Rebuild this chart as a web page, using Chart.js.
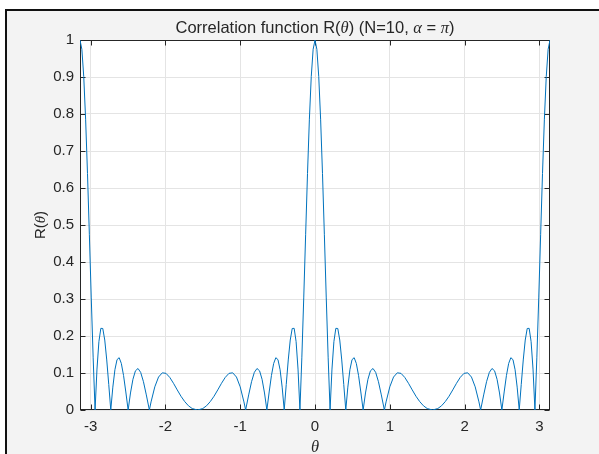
<!DOCTYPE html>
<html>
<head>
<meta charset="utf-8">
<script src="https://cdn.jsdelivr.net/npm/chart.js@4.4.1/dist/chart.umd.min.js"></script>
<style>
  html, body { margin: 0; padding: 0; background: #fff; }
  #wrap { position: relative; width: 599px; height: 454px; overflow: hidden; }
  #fig { position: absolute; left: 5px; top: 9px; right: 0; bottom: 0;
         border-top: 2px solid #111; border-left: 2px solid #111; background: #f3f3f3; }
  #chart { position: absolute; left: 0; top: 0; }
</style>
</head>
<body>
<div id="wrap"><div id="fig"></div><canvas id="chart" width="599" height="454"></canvas></div>
<script>
// theta (rad) and R(theta)
const theta = [
  -3.1416, -3.1166, -3.0916, -3.0665, -3.0414, -3.0163, -2.9910, -2.9657, -2.9402,
  -2.9147, -2.8889, -2.8630, -2.8369, -2.8106, -2.7840, -2.7572, -2.7301,
  -2.7026, -2.6748, -2.6467, -2.6180, -2.5889, -2.5592, -2.5290, -2.4981,
  -2.4665, -2.4340, -2.4006, -2.3662, -2.3306, -2.2935, -2.2549, -2.2143,
  -2.1916, -2.1416, -2.0916, -2.0416, -1.9916, -1.9416, -1.8916, -1.8416, -1.7916, -1.7416, -1.6916, -1.6416, -1.5708,
  -1.5000, -1.4500, -1.4000, -1.3500, -1.3000, -1.2500, -1.2000, -1.1500, -1.1000, -1.0500, -1.0000, -0.9500, -0.9273,
  -0.8867, -0.8481, -0.8110, -0.7754, -0.7410, -0.7076, -0.6751, -0.6435,
  -0.6126, -0.5824, -0.5527, -0.5236, -0.4949, -0.4668, -0.4390, -0.4115,
  -0.3844, -0.3576, -0.3310, -0.3047, -0.2786, -0.2527, -0.2269, -0.2014,
  -0.1759, -0.1506, -0.1253, -0.1002, -0.0751, -0.0500, -0.0250,
  0.0000, 0.0250, 0.0500, 0.0751, 0.1002, 0.1253, 0.1506, 0.1759, 0.2014,
  0.2269, 0.2527, 0.2786, 0.3047, 0.3310, 0.3576, 0.3844, 0.4115,
  0.4390, 0.4668, 0.4949, 0.5236, 0.5527, 0.5824, 0.6126, 0.6435,
  0.6751, 0.7076, 0.7410, 0.7754, 0.8110, 0.8481, 0.8867, 0.9273,
  0.9500, 1.0000, 1.0500, 1.1000, 1.1500, 1.2000, 1.2500, 1.3000, 1.3500, 1.4000, 1.4500, 1.5000, 1.5708,
  1.6416, 1.6916, 1.7416, 1.7916, 1.8416, 1.8916, 1.9416, 1.9916, 2.0416, 2.0916, 2.1416, 2.1916, 2.2143,
  2.2549, 2.2935, 2.3306, 2.3662, 2.4006, 2.4340, 2.4665, 2.4981,
  2.5290, 2.5592, 2.5889, 2.6180, 2.6467, 2.6748, 2.7026, 2.7301,
  2.7572, 2.7840, 2.8106, 2.8369, 2.8630, 2.8889, 2.9147, 2.9402,
  2.9657, 2.9910, 3.0163, 3.0414, 3.0665, 3.0916, 3.1166, 3.1416
];
const rValues = [
  1.0000, 0.9748, 0.9012, 0.7860, 0.6392, 0.4736, 0.3029, 0.1410, 0,
  0.1106, 0.1848, 0.2207, 0.2203, 0.1891, 0.1353, 0.0689, 0,
  0.0618, 0.1089, 0.1361, 0.1414, 0.1258, 0.0930, 0.0487, 0,
  0.0460, 0.0829, 0.1059, 0.1122, 0.1017, 0.0765, 0.0408, 0,
  0.0219, 0.0626, 0.0891, 0.1005, 0.0990, 0.0881, 0.0721, 0.0543, 0.0372, 0.0227, 0.0114, 0.0039, 0,
  0.0039, 0.0114, 0.0227, 0.0372, 0.0543, 0.0721, 0.0881, 0.0990, 0.1005, 0.0891, 0.0626, 0.0219, 0,
  0.0408, 0.0765, 0.1017, 0.1122, 0.1059, 0.0829, 0.0460, 0,
  0.0487, 0.0930, 0.1258, 0.1414, 0.1361, 0.1089, 0.0618, 0,
  0.0689, 0.1353, 0.1891, 0.2203, 0.2207, 0.1848, 0.1106, 0,
  0.1410, 0.3029, 0.4736, 0.6392, 0.7860, 0.9012, 0.9748,
  1.0000, 0.9748, 0.9012, 0.7860, 0.6392, 0.4736, 0.3029, 0.1410, 0,
  0.1106, 0.1848, 0.2207, 0.2203, 0.1891, 0.1353, 0.0689, 0,
  0.0618, 0.1089, 0.1361, 0.1414, 0.1258, 0.0930, 0.0487, 0,
  0.0460, 0.0829, 0.1059, 0.1122, 0.1017, 0.0765, 0.0408, 0,
  0.0219, 0.0626, 0.0891, 0.1005, 0.0990, 0.0881, 0.0721, 0.0543, 0.0372, 0.0227, 0.0114, 0.0039, 0,
  0.0039, 0.0114, 0.0227, 0.0372, 0.0543, 0.0721, 0.0881, 0.0990, 0.1005, 0.0891, 0.0626, 0.0219, 0,
  0.0408, 0.0765, 0.1017, 0.1122, 0.1059, 0.0829, 0.0460, 0,
  0.0487, 0.0930, 0.1258, 0.1414, 0.1361, 0.1089, 0.0618, 0,
  0.0689, 0.1353, 0.1891, 0.2203, 0.2207, 0.1848, 0.1106, 0,
  0.1410, 0.3029, 0.4736, 0.6392, 0.7860, 0.9012, 0.9748, 1.0000
];

const xTicks = [-3, -2, -1, 0, 1, 2, 3];
const xTickLabels = ["-3", "-2", "-1", "0", "1", "2", "3"];
const yTicks = [0, 0.1, 0.2, 0.3, 0.4, 0.5, 0.6, 0.7, 0.8, 0.9, 1];
const yTickLabels = ["0", "0.1", "0.2", "0.3", "0.4", "0.5", "0.6", "0.7", "0.8", "0.9", "1"];

// [text, italic greek?]
const titleParts = [["Correlation function R(", false], ["\u03B8", true], [") (N=10, ", false],
                    ["\u03B1", true], [" = ", false], ["\u03C0", true], [")", false]];
const yLabelParts = [["R(", false], ["\u03B8", true], [")", false]];
const xLabelParts = [["\u03B8", true]];

const SANS = '"Liberation Sans", Arial, Helvetica, sans-serif';
const SERIF = '"Liberation Serif", "DejaVu Serif", serif';
const INK = "#262626";

function richText(ctx, parts, size, x, y) {
  const font = it => it ? `italic ${size}px ${SERIF}` : `${size}px ${SANS}`;
  let w = 0;
  parts.forEach(([t, it]) => { ctx.font = font(it); w += ctx.measureText(t).width; });
  let cx = x - w / 2;
  ctx.textAlign = "left";
  parts.forEach(([t, it]) => {
    ctx.font = font(it);
    ctx.fillText(t, cx, y);
    cx += ctx.measureText(t).width;
  });
}

const matlabAxes = {
  id: "matlabAxes",
  beforeDraw(chart) {
    const { ctx, chartArea: a } = chart;
    ctx.save();
    ctx.fillStyle = "#fff";
    ctx.fillRect(a.left, a.top, a.right - a.left, a.bottom - a.top);
    ctx.restore();
  },
  beforeDatasetsDraw(chart) {
    const { ctx, chartArea: a, scales } = chart;
    const L = a.left + 0.5, R = a.right - 0.5, T = a.top + 0.5, B = a.bottom - 0.5;
    ctx.save();
    ctx.strokeStyle = INK;
    ctx.lineWidth = 1;
    ctx.strokeRect(L, T, R - L, B - T);
    ctx.beginPath();
    xTicks.forEach(v => {
      const px = Math.round(scales.x.getPixelForValue(v)) + 0.5;
      ctx.moveTo(px, B); ctx.lineTo(px, B - 5);
      ctx.moveTo(px, T); ctx.lineTo(px, T + 5);
    });
    yTicks.forEach(v => {
      const py = Math.round(scales.y.getPixelForValue(v)) + 0.5;
      ctx.moveTo(L, py); ctx.lineTo(L + 5, py);
      ctx.moveTo(R, py); ctx.lineTo(R - 5, py);
    });
    ctx.stroke();
    ctx.restore();
  },
  afterDraw(chart) {
    const { ctx, chartArea: a } = chart;
    const cx = (a.left + a.right) / 2;
    ctx.save();
    ctx.fillStyle = INK;
    ctx.textBaseline = "alphabetic";
    richText(ctx, titleParts, 16.5, cx, 33);
    richText(ctx, xLabelParts, 16.5, cx, 452);
    ctx.translate(45, (a.top + a.bottom) / 2);
    ctx.rotate(-Math.PI / 2);
    richText(ctx, yLabelParts, 15, 0, 0);
    ctx.restore();
  }
};

const tickFont = { family: SANS, size: 15 };

new Chart(document.getElementById("chart"), {
  type: "line",
  data: {
    datasets: [{
      data: theta.map((t, i) => ({ x: t, y: rValues[i] })),
      borderColor: "#0072BD",
      borderWidth: 1,
      pointRadius: 0,
      tension: 0,
      fill: false
    }]
  },
  options: {
    responsive: false,
    animation: false,
    devicePixelRatio: 1,
    layout: { padding: { left: 0, top: 40, right: 49, bottom: 0 } },
    plugins: { legend: { display: false }, tooltip: { enabled: false }, title: { display: false } },
    scales: {
      x: {
        type: "linear",
        min: -Math.PI, max: Math.PI,
        afterBuildTicks: s => { s.ticks = xTicks.map(v => ({ value: v })); },
        afterFit: s => { s.height = 44; },
        grid: { color: "#e4e4e4", lineWidth: 1, drawTicks: false },
        border: { display: false },
        ticks: { autoSkip: false, maxRotation: 0, padding: 8, color: INK, font: tickFont,
                 callback: (v, i) => xTickLabels[i] }
      },
      y: {
        type: "linear",
        min: 0, max: 1,
        afterBuildTicks: s => { s.ticks = yTicks.map(v => ({ value: v })); },
        afterFit: s => { s.width = 80; },
        grid: { color: "#e4e4e4", lineWidth: 1, drawTicks: false },
        border: { display: false },
        ticks: { autoSkip: false, padding: 6, color: INK, font: tickFont,
                 callback: (v, i) => yTickLabels[i] }
      }
    }
  },
  plugins: [matlabAxes]
});
</script>
</body>
</html>
